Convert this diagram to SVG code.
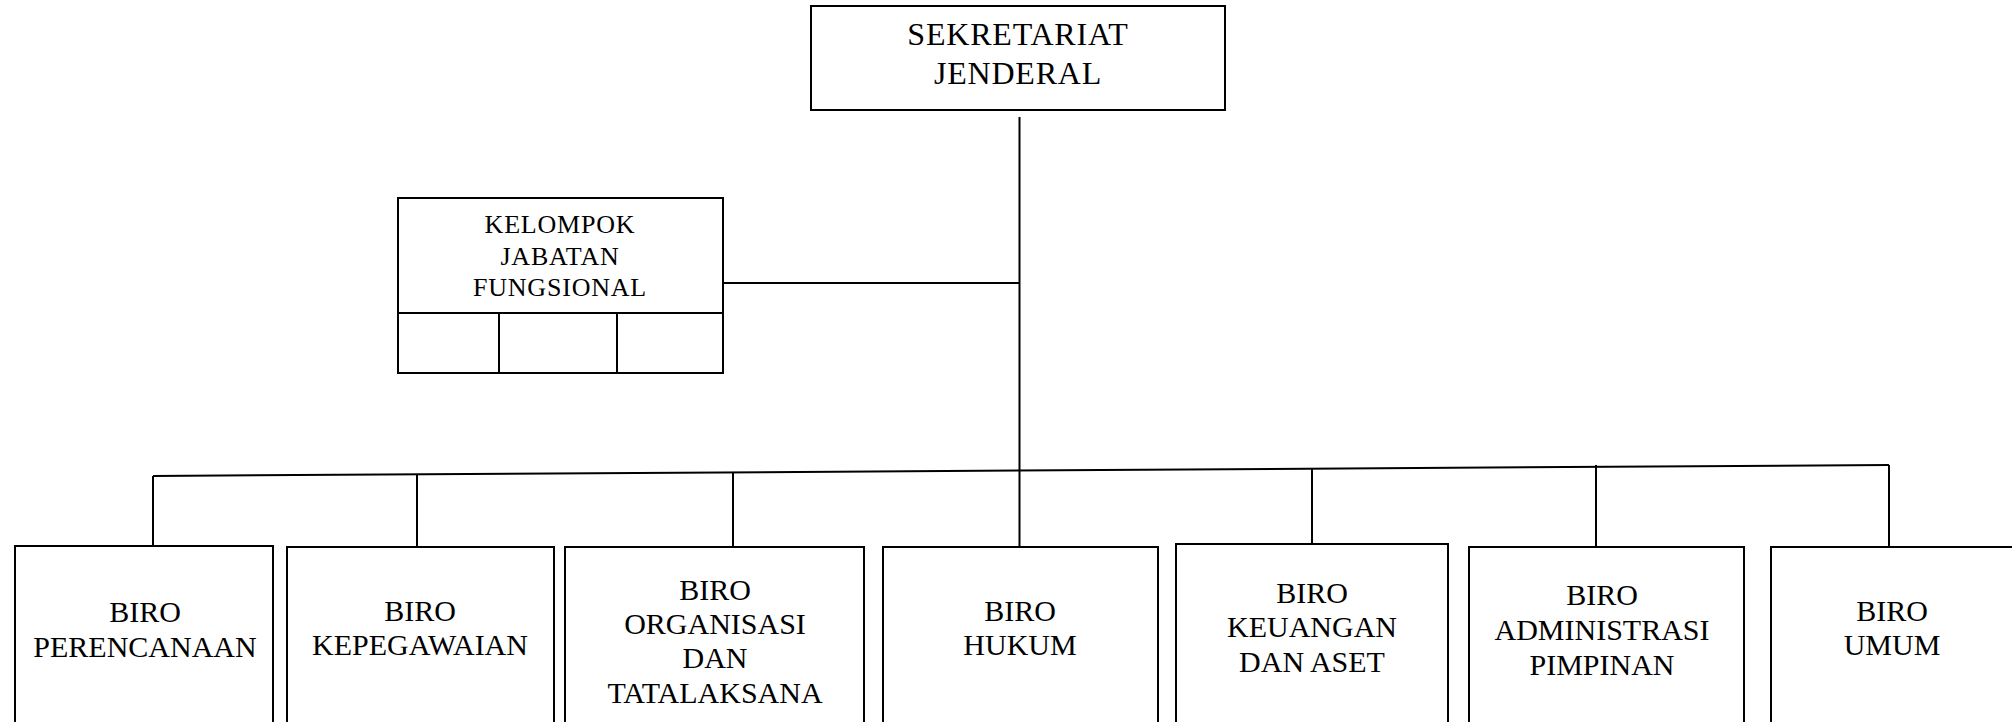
<svg xmlns="http://www.w3.org/2000/svg" width="2012" height="722" viewBox="0 0 2012 722">
<style>
.box{fill:#fff;stroke:#000;stroke-width:2}
.ln{stroke:#000;stroke-width:2;fill:none}
.t{font-family:"Liberation Serif","Times New Roman",serif;font-size:30px;fill:#000;text-anchor:middle}
.top{font-size:32px;letter-spacing:0.8px}
.kjf{font-size:26px;letter-spacing:0.8px}
</style>
<rect width="2012" height="722" fill="#fff"/>
<g id="connectors">
<line class="ln" x1="1019.5" y1="117" x2="1019.5" y2="547"/>
<line class="ln" x1="723" y1="283" x2="1019.5" y2="283"/>
<line class="ln" x1="153" y1="476" x2="1889" y2="465"/>
<line class="ln" x1="153" y1="476" x2="153" y2="546"/>
<line class="ln" x1="417" y1="474" x2="417" y2="547"/>
<line class="ln" x1="733" y1="472" x2="733" y2="547"/>
<line class="ln" x1="1312" y1="469" x2="1312" y2="544"/>
<line class="ln" x1="1596" y1="465" x2="1596" y2="547"/>
<line class="ln" x1="1889" y1="465" x2="1889" y2="547"/>
</g>
<g id="sekjen">
<rect class="box" x="811" y="6" width="414" height="104"/>
<text class="t top" x="1018" y="45">SEKRETARIAT</text>
<text class="t top" x="1018" y="84">JENDERAL</text>
</g>
<g id="kjf">
<rect class="box" x="398" y="198" width="325" height="115"/>
<rect class="box" x="398" y="313" width="325" height="60"/>
<line class="ln" x1="499" y1="313" x2="499" y2="373"/>
<line class="ln" x1="617" y1="313" x2="617" y2="373"/>
<text class="t kjf" x="560" y="233">KELOMPOK</text>
<text class="t kjf" x="560" y="264.5">JABATAN</text>
<text class="t kjf" x="560" y="296">FUNGSIONAL</text>
</g>
<g id="biro-perencanaan">
<rect class="box" x="15" y="546" width="258" height="200"/>
<text class="t" x="145" y="622">BIRO</text>
<text class="t" x="145" y="657">PERENCANAAN</text>
</g>
<g id="biro-kepegawaian">
<rect class="box" x="287" y="547" width="267" height="200"/>
<text class="t" x="420" y="621">BIRO</text>
<text class="t" x="420" y="655">KEPEGAWAIAN</text>
</g>
<g id="biro-organisasi">
<rect class="box" x="565" y="547" width="299" height="200"/>
<text class="t" x="715" y="600">BIRO</text>
<text class="t" x="715" y="634">ORGANISASI</text>
<text class="t" x="715" y="668">DAN</text>
<text class="t" x="715" y="703">TATALAKSANA</text>
</g>
<g id="biro-hukum">
<rect class="box" x="883" y="547" width="275" height="200"/>
<text class="t" x="1020" y="621">BIRO</text>
<text class="t" x="1020" y="655">HUKUM</text>
</g>
<g id="biro-keuangan">
<rect class="box" x="1176" y="544" width="272" height="200"/>
<text class="t" x="1312" y="603">BIRO</text>
<text class="t" x="1312" y="637">KEUANGAN</text>
<text class="t" x="1312" y="672">DAN ASET</text>
</g>
<g id="biro-administrasi">
<rect class="box" x="1469" y="547" width="275" height="200"/>
<text class="t" x="1602" y="605">BIRO</text>
<text class="t" x="1602" y="640">ADMINISTRASI</text>
<text class="t" x="1602" y="675">PIMPINAN</text>
</g>
<g id="biro-umum">
<rect class="box" x="1771" y="547" width="245" height="200"/>
<text class="t" x="1892" y="621">BIRO</text>
<text class="t" x="1892" y="655">UMUM</text>
</g>
</svg>
